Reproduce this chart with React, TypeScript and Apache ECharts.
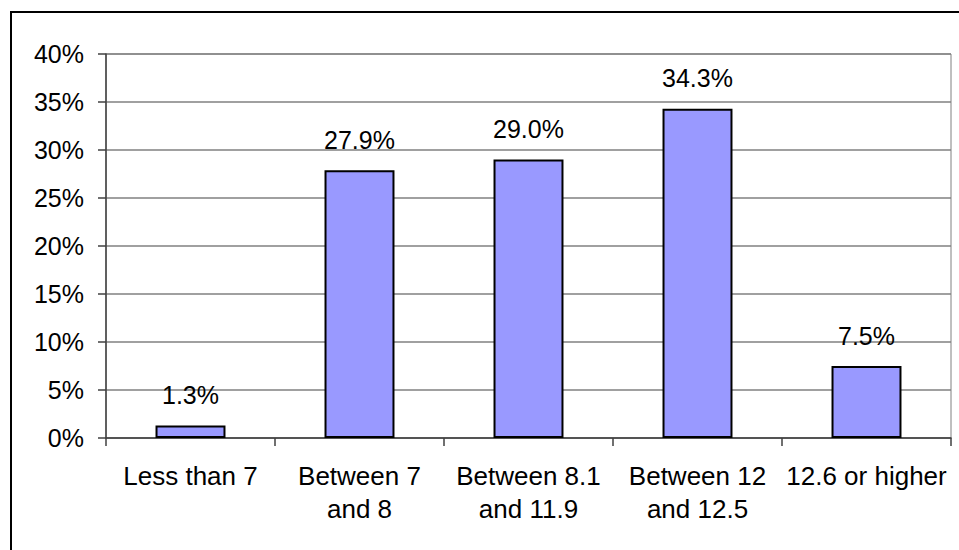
import React, { useEffect, useRef } from "react";
import * as echarts from "echarts";

const categories = [
  "Less than 7",
  "Between 7\nand 8",
  "Between 8.1\nand 11.9",
  "Between 12\nand 12.5",
  "12.6 or higher",
];
const values = [1.3, 27.9, 29.0, 34.3, 7.5];
const yMin = 0;
const yMax = 40;
const yInterval = 5;

const FONT = "'Liberation Sans', Arial, sans-serif";

export default function App() {
  const ref = useRef<HTMLDivElement>(null);
  useEffect(() => {
    if (!ref.current) return;
    const chart = echarts.init(ref.current, undefined, { renderer: "svg" });
    chart.setOption({
      animation: false,
      backgroundColor: "#ffffff",
      textStyle: { fontFamily: FONT },
      graphic: [
        {
          type: "rect",
          shape: { x: 11, y: 12, width: 1100, height: 700 },
          style: { fill: "none", stroke: "#000000", lineWidth: 2 },
          silent: true,
        },
      ],
      grid: {
        left: 106,
        right: 8,
        top: 54,
        bottom: 112,
        show: true,
        borderColor: "#808080",
        borderWidth: 1,
        containLabel: false,
      },
      xAxis: {
        type: "category",
        data: categories,
        boundaryGap: true,
        axisLine: { show: true, lineStyle: { color: "#404040", width: 1.5 } },
        axisTick: {
          show: true,
          length: 8,
          alignWithLabel: false,
          lineStyle: { color: "#404040", width: 1.5 },
        },
        axisLabel: {
          color: "#000000",
          fontSize: 26,
          fontFamily: FONT,
          lineHeight: 33,
          margin: 21,
          interval: 0,
        },
      },
      yAxis: {
        type: "value",
        min: yMin,
        max: yMax,
        interval: yInterval,
        axisLine: { show: true, lineStyle: { color: "#404040", width: 1.5 } },
        axisTick: { show: true, length: 8, lineStyle: { color: "#404040", width: 1.5 } },
        splitLine: { show: true, lineStyle: { color: "#808080", width: 1.5 } },
        axisLabel: {
          color: "#000000",
          fontSize: 25,
          fontFamily: FONT,
          margin: 22,
          formatter: "{value}%",
        },
      },
      series: [
        {
          type: "bar",
          data: values,
          barWidth: "41.4%",
          itemStyle: { color: "#9999FF", borderColor: "#000000", borderWidth: 2 },
          label: {
            show: true,
            position: "top",
            distance: 18,
            color: "#000000",
            fontSize: 25,
            fontFamily: FONT,
            formatter: (p: any) => Number(p.value).toFixed(1) + "%",
          },
        },
      ],
    });
    return () => chart.dispose();
  }, []);
  return (
    <div
      ref={ref}
      style={{ position: "fixed", left: 0, top: 0, width: 959, height: 550, background: "#fff" }}
    />
  );
}
